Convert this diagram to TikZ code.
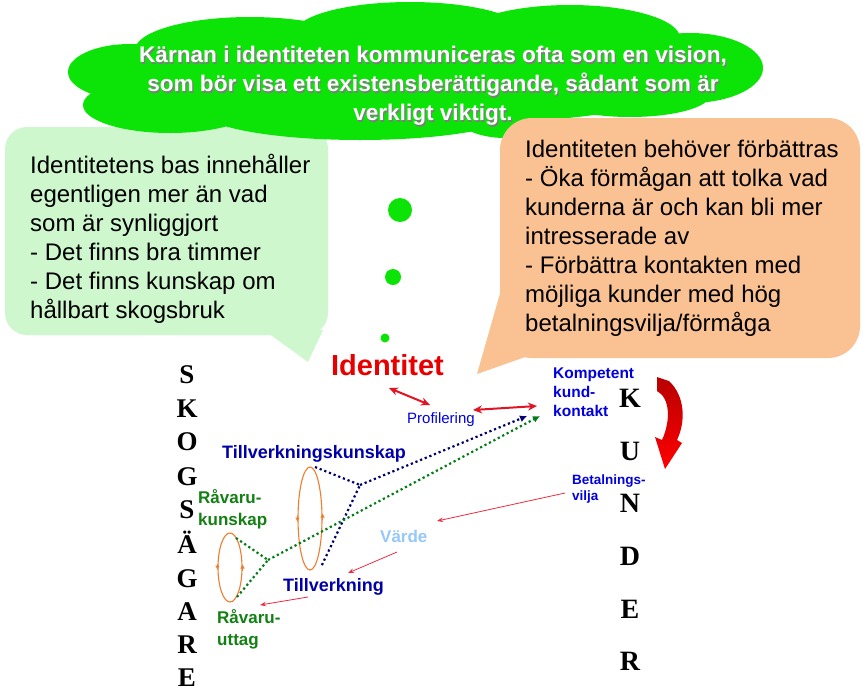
\documentclass[tikz,border=0pt]{standalone}
\usepackage{fontspec}
\setmainfont{Liberation Sans}
\newfontfamily\serifb{Liberation Serif}
\usetikzlibrary{shapes.geometric,arrows.meta}
\definecolor{cgreen}{RGB}{12,228,8}
\definecolor{lgreen}{RGB}{206,247,206}
\definecolor{lorange}{RGB}{250,193,146}
\definecolor{identred}{RGB}{232,0,0}
\definecolor{arrred}{RGB}{225,20,35}
\definecolor{thinred}{RGB}{235,45,65}
\definecolor{tblue}{RGB}{0,0,225}
\definecolor{dblue}{RGB}{0,0,170}
\definecolor{tgreen}{RGB}{20,128,20}
\definecolor{vblue}{RGB}{150,200,250}
\definecolor{eorange}{RGB}{240,125,45}
\definecolor{navydot}{RGB}{0,0,110}
\definecolor{greendot}{RGB}{0,125,20}
\definecolor{shadowgray}{RGB}{125,125,125}
\begin{document}
\begin{tikzpicture}[x=1pt,y=-1pt,
  calltext/.style={anchor=north west,align=left,inner sep=0pt,font=\fontsize{24}{29}\selectfont},
  cloudtxt/.style={anchor=north,align=center,inner sep=0pt,font=\bfseries\fontsize{22.6}{29}\selectfont},
  serifletter/.style={anchor=base,inner sep=0pt,font=\serifb\bfseries\fontsize{27}{27}\selectfont},
  kletter/.style={anchor=base,inner sep=0pt,font=\serifb\bfseries\fontsize{28}{28}\selectfont},
  bluelbl/.style={inner sep=0pt,text=tblue,font=\bfseries\fontsize{15.5}{19}\selectfont},
  greenlbl/.style={anchor=north west,align=left,inner sep=0pt,text=tgreen,font=\bfseries\fontsize{17}{22}\selectfont},
  dblbl/.style={anchor=base west,inner sep=0pt,text=dblue,font=\bfseries\fontsize{18}{22}\selectfont},
  dotball/.style={circle,fill=cgreen,inner sep=0pt},
  redarrow/.style={draw=arrred,line width=2pt,{Stealth[length=9pt,width=8pt]}-{Stealth[length=9pt,width=8pt]}},
  thinarrow/.style={draw=thinred,line width=0.8pt,-{Stealth[length=6pt,width=4.5pt]}},
  navydots/.style={draw=navydot,line width=2.2pt,dash pattern=on 2.2pt off 2.8pt},
  greendots/.style={draw=greendot,line width=2.2pt,dash pattern=on 2.2pt off 2.8pt},
  cycleell/.style={draw=eorange,line width=1.1pt},
  ellmark/.style={draw=eorange,line width=1pt,-{Triangle[length=4pt,width=4pt]}}
]
\useasboundingbox (0,0) rectangle (866,691);
\fill[white] (0,0) rectangle (866,691);

% green callout
\fill[lgreen,rounded corners=22pt] (5,127) rectangle (328,335);
\fill[lgreen] (268,333) -- (308,362) -- (323,330) -- cycle;

% cloud (union of lobes)
\begin{scope}[fill=cgreen]
\fill (130,72) ellipse [x radius=62, y radius=28];
\fill (170,105) ellipse [x radius=87, y radius=28];
\fill (250,50) ellipse [x radius=115, y radius=33];
\fill (410,33) ellipse [x radius=115, y radius=31];
\fill (570,38) ellipse [x radius=110, y radius=33];
\fill (690,68) ellipse [x radius=73, y radius=35];
\fill (630,95) ellipse [x radius=80, y radius=22];
\fill (360,110) ellipse [x radius=160, y radius=30];
\fill (505,108) ellipse [x radius=55, y radius=30];
\fill (420,75) ellipse [x radius=290, y radius=50];
\end{scope}

% orange callout
\fill[lorange,rounded corners=32pt] (500,118) rectangle (860,358);
\fill[lorange] (501,290) -- (477,374) -- (528,356) -- (528,300) -- cycle;

% cloud text
\node[cloudtxt,text=shadowgray] (cloudshadow) at (434.2,47.6)
  {Kärnan i identiteten kommuniceras ofta som en vision,\\som bör visa ett existensberättigande, sådant som är\\verkligt viktigt.};
\node[cloudtxt,text=white] (cloudtext) at (433,46.4)
  {Kärnan i identiteten kommuniceras ofta som en vision,\\som bör visa ett existensberättigande, sådant som är\\verkligt viktigt.};

% callout texts
\node[calltext] (greentext) at (30,153.5)
  {Identitetens bas innehåller\\egentligen mer än vad\\som är synliggjort\\- Det finns bra timmer\\- Det finns kunskap om\\hållbart skogsbruk};
\node[calltext] (orangetext) at (525,139.5)
  {Identiteten behöver förbättras\\- Öka förmågan att tolka vad\\kunderna är och kan bli mer\\intresserade av\\- Förbättra kontakten med\\möjliga kunder med hög\\betalningsvilja/förmåga};

% thought dots
\node[dotball,minimum size=24pt] (dot1) at (400,210) {};
\node[dotball,minimum size=16pt] (dot2) at (393,277) {};
\node[dotball,minimum size=9pt] (dot3) at (385,338) {};

% labels
\node[anchor=base,inner sep=0pt,text=identred,font=\bfseries\fontsize{29}{29}\selectfont] (ident) at (387.5,375) {Identitet};
\node[anchor=base west,inner sep=0pt,text=tblue,font=\fontsize{15}{18}\selectfont] (prof) at (407,423) {Profilering};
\node[bluelbl,anchor=north west,align=left] (komp) at (553,368) {Kompetent\\kund-\\kontakt};
\node[anchor=north west,align=left,inner sep=0pt,text=tblue,font=\bfseries\fontsize{13.5}{16.5}\selectfont] (betal) at (572,474.3) {Betalnings-\\vilja};
\node[anchor=base west,inner sep=0pt,text=vblue,font=\bfseries\fontsize{17}{20}\selectfont] (varde) at (380,542) {Värde};
\node[dblbl] (tkunskap) at (222,458) {Tillverkningskunskap};
\node[dblbl] (tillv) at (283,591) {Tillverkning};
\node[greenlbl] (rkunskap) at (198,489) {Råvaru-\\kunskap};
\node[greenlbl] (ruttag) at (217,609) {Råvaru-\\uttag};

% KUNDER
\node[kletter] (k1) at (630,407) {K};
\node[kletter] (k2) at (630,460) {U};
\node[kletter] (k3) at (630,512) {N};
\node[kletter] (k4) at (630,565) {D};
\node[kletter] (k5) at (630,618) {E};
\node[kletter] (k6) at (630,670) {R};

% SKOGSÄGARE
\node[serifletter] (s1) at (187,383) {S};
\node[serifletter] (s2) at (187,417) {K};
\node[serifletter] (s3) at (187,450) {O};
\node[serifletter] (s4) at (187,485) {G};
\node[serifletter] (s5) at (187,518) {S};
\node[serifletter] (s6) at (187,553) {Ä};
\node[serifletter] (s7) at (187,587) {G};
\node[serifletter] (s8) at (187,620) {A};
\node[serifletter] (s9) at (187,653) {R};
\node[serifletter] (s10) at (187,686) {E};

% red double arrows
\coordinate (idA) at (389,388);
\coordinate (prA) at (430,405);
\coordinate (prB) at (473,410);
\coordinate (kpA) at (537,406);
\draw[redarrow] (idA) -- (prA);
\draw[redarrow] (prB) -- (kpA);

% thin red arrows
\coordinate (btA) at (565,493);
\coordinate (vdA) at (437,521);
\coordinate (vdB) at (397,552);
\coordinate (tvA) at (348,573);
\coordinate (tvB) at (308,597);
\coordinate (ruA) at (260,605);
\draw[thinarrow] (btA) -- (vdA);
\draw[thinarrow] (vdB) -- (tvA);
\draw[thinarrow] (tvB) -- (ruA);

% ellipses (cycles)
\node[ellipse,cycleell,minimum width=24pt,minimum height=69pt,inner sep=0pt] (ellsmall) at (230,567.5) {};
\node[ellipse,cycleell,minimum width=24pt,minimum height=103pt,inner sep=0pt] (elllarge) at (310,518.5) {};
\draw[ellmark] ([yshift=4pt]ellsmall.west) -- ([yshift=-2pt]ellsmall.west);
\draw[ellmark] ([yshift=-3pt]ellsmall.east) -- ([yshift=3pt]ellsmall.east);
\draw[ellmark] ([yshift=3pt]elllarge.west) -- ([yshift=-3pt]elllarge.west);
\draw[ellmark] ([yshift=-1pt]elllarge.east) -- ([yshift=5pt]elllarge.east);

% dotted lines
\coordinate (nvTop) at (315,467);
\coordinate (nvJ) at (360,485);
\coordinate (nvBot) at (321,567);
\coordinate (nvEnd) at (527,416);
\coordinate (grTop) at (236,538);
\coordinate (grJ) at (268,560);
\coordinate (grBot) at (237,597);
\coordinate (grEnd) at (540,416);
\draw[navydots] (nvTop) -- (nvJ) -- (nvBot);
\draw[navydots,-{Latex[length=7pt,width=7pt]}] (nvJ) -- (nvEnd);
\draw[greendots] (grTop) -- (grJ) -- (grBot);
\draw[greendots,-{Latex[length=7pt,width=7pt]}] (grJ) -- (grEnd);

% red curved arrow
\shade[top color=red!72!black,bottom color=red]
  (657,377) -- (669,381) .. controls (685,396) and (686,421) .. (677,440)
  -- (682,443) -- (665,469) -- (655,437) -- (662,440)
  .. controls (671,420) and (670,398) .. (657,391) -- cycle;
\end{tikzpicture}
\end{document}
